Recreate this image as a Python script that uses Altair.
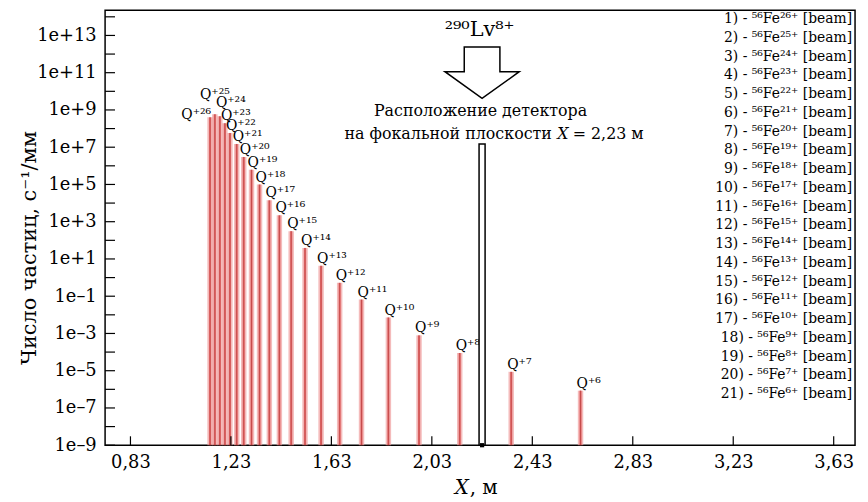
import altair as alt
import pandas as pd

# ---------------- data ----------------
charges = [26, 25, 24, 23, 22, 21, 20, 19, 18, 17, 16, 15, 14, 13, 12, 11, 10, 9, 8, 7, 6]
peak_x = [1.147, 1.166, 1.186, 1.206, 1.226, 1.253, 1.281, 1.312, 1.344, 1.383, 1.423,
          1.470, 1.525, 1.589, 1.663, 1.750, 1.857, 1.979, 2.141, 2.346, 2.622]
peak_y = [4.0e8, 5.9e8, 4.6e8, 1.95e8, 5.8e7, 1.5e7, 3.0e6, 6.2e5, 9.8e4, 1.4e4, 2.2e3,
          3.1e2, 39, 4.3, 0.52, 0.066, 0.0072, 7.9e-4, 8.9e-5, 8.7e-6, 8.5e-7]
x_tick_values = [0.83, 1.23, 1.63, 2.03, 2.43, 2.83, 3.23, 3.63]
y_label_exps = list(range(-9, 14, 2))
y_tick_exps = list(range(-9, 15))
detector_x = 2.23
detector_top = 1.5e7
floor_value = 1e-9

SUP = str.maketrans("0123456789+-", "⁰¹²³⁴⁵⁶⁷⁸⁹⁺⁻")


def sup(s):
    return s.translate(SUP)


legend_labels = [f"{i + 1}) - {sup('56')}Fe{sup(str(q) + '+')} [beam]" for i, q in enumerate(charges)]
peak_labels = ["Q" + sup("+" + str(q)) for q in charges]

FONT = "DejaVu Serif"

peaks = pd.DataFrame({"charge": charges, "x": peak_x, "y": peak_y, "label": peak_labels})
peaks["floor"] = floor_value
ytick_df = pd.DataFrame({"v": [10.0 ** e for e in y_tick_exps]})
xtick_df = pd.DataFrame({"v": x_tick_values})
det_df = pd.DataFrame({"x0": [detector_x - 0.012], "x1": [detector_x + 0.012],
                       "y0": [floor_value], "y1": [detector_top], "x": [detector_x]})
one = pd.DataFrame({"a": [0]})

W, H = 757, 439
xs = alt.Scale(domain=[0.729, 3.715], nice=False, zero=False)
ys = alt.Scale(type="log", domain=[1e-9, 10 ** 14.35], nice=False)

y_label_expr = ("'1e' + (datum.value >= 1 ? '+' : '–') + "
                "format(abs(round(log(datum.value) / LN10)), 'd')")

X_AXIS = alt.Axis(values=x_tick_values, labelExpr="replace(format(datum.value, '.2f'), '.', ',')",
                  ticks=False, domain=False, grid=False, labelFontSize=18, labelPadding=9,
                  labelFont=FONT, labelColor="black", title=None)
Y_AXIS = alt.Axis(values=[10.0 ** e for e in y_label_exps], labelExpr=y_label_expr,
                  ticks=False, domain=False, grid=False, labelFontSize=18, labelPadding=9,
                  labelFont=FONT, labelColor="black", title=None)


def X(field):
    return alt.X(field, scale=xs, axis=X_AXIS)


def Y(field):
    return alt.Y(field, scale=ys, axis=Y_AXIS)


glow = alt.Chart(peaks).mark_rule(strokeWidth=5.5, color="#ef9e9e", opacity=0.7).encode(
    x=X("x:Q"), y=Y("y:Q"), y2="floor:Q")
core = alt.Chart(peaks).mark_rule(strokeWidth=2.2, color="#d83a3a", opacity=0.6).encode(
    x=X("x:Q"), y=Y("y:Q"), y2="floor:Q")
center = alt.Chart(peaks).mark_rule(strokeWidth=0.8, color="#a02020", opacity=0.55).encode(
    x=X("x:Q"), y=Y("y:Q"), y2="floor:Q")


def qlabels(cond, align, dx, dy):
    return alt.Chart(peaks).transform_filter(cond).mark_text(
        font=FONT, fontSize=14, align=align, baseline="alphabetic", dx=dx, dy=dy, color="black"
    ).encode(x=X("x:Q"), y=Y("y:Q"), text="label:N")


lab26 = qlabels("datum.charge == 26", "right", 1, 2)
lab25 = qlabels("datum.charge == 25", "left", -15, -15)
lab24 = qlabels("datum.charge == 24", "left", -4, -9)
lab_rest = qlabels("datum.charge < 24", "left", -4, -3)

yticks = alt.Chart(ytick_df).mark_rule(color="black", strokeWidth=1.2).encode(
    y=Y("v:Q"), x=alt.value(0), x2=alt.value(10))
xticks = alt.Chart(xtick_df).mark_rule(color="black", strokeWidth=1.2).encode(
    x=X("v:Q"), y=alt.value(H), y2=alt.value(H - 9))

detector = alt.Chart(det_df).mark_rect(fill="white", stroke="black", strokeWidth=1.5).encode(
    x=X("x0:Q"), x2="x1:Q", y=Y("y0:Q"), y2="y1:Q")
det_foot = alt.Chart(det_df).mark_square(size=18, color="black", opacity=1).encode(
    x=X("x:Q"), y=Y("y0:Q"))

ARROW = "M-0.48,-0.693 L0.48,-0.693 L0.48,-0.027 L1,-0.027 L0,0.693 L-1,-0.027 L-0.48,-0.027 Z"
arrow = alt.Chart(det_df).mark_point(shape=ARROW, size=5625, filled=True, fill="white",
                                     stroke="black", strokeWidth=1.5, opacity=1).encode(
    x=X("x:Q"), y=alt.value(63))


def label(text, x, y, size, align="center", style="normal", angle=0):
    kw = {}
    if angle:
        kw["angle"] = angle
    return alt.Chart(one).mark_text(text=text, font=FONT, fontSize=size, align=align,
                                    baseline="middle", fontStyle=style, color="black",
                                    **kw).encode(x=alt.value(x), y=alt.value(y))


lv = label("²⁹⁰Lv⁸⁺", 378, 20, 21)
det1 = label("Расположение детектора", 379, 102, 16)
det2a = label("на фокальной плоскости", 451, 125, 16, align="right")
det2b = label("X", 462, 125, 16, style="italic")
det2c = label("= 2,23 м", 472, 125, 16, align="left")
xt1 = label("X", 360, 482, 20, style="italic")
xt2 = label(", м", 368, 482, 20, align="left")
ytitle = label("Число частиц, с⁻¹/мм", -76, 240, 21, angle=270)

legend = alt.Chart(one).mark_text(
    text=legend_labels, font=FONT, fontSize=14, align="right", baseline="top",
    lineHeight=18.93, color="black"
).encode(x=alt.value(754), y=alt.value(2))

chart = alt.layer(glow, core, center, lab26, lab25, lab24, lab_rest, yticks, xticks,
                  detector, det_foot, arrow, lv, det1, det2a, det2b, det2c, xt1, xt2,
                  ytitle, legend).properties(
    width=W, height=H,
    background="white",
    autosize=alt.AutoSizeParams(type="none"),
    padding={"left": 98, "top": 0, "right": 5, "bottom": 55},
).configure_view(stroke="black", strokeWidth=1.5)

chart.save("out.html", embed_options={"renderer": "svg", "actions": False})
